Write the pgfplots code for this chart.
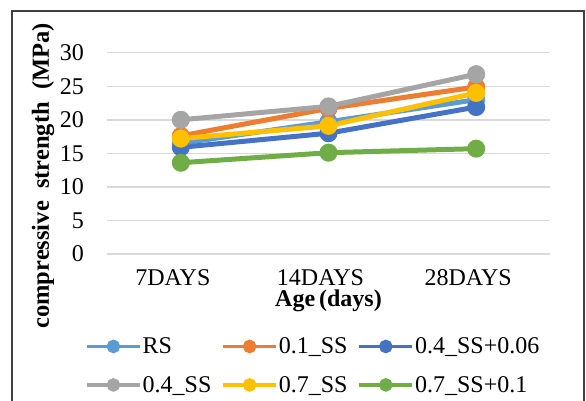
\documentclass[border=0pt]{standalone}
\usepackage{pgfplots}
\pgfplotsset{compat=1.18}
\usepackage{fontspec}
\setmainfont{Liberation Serif}
\definecolor{cRS}{HTML}{5B9BD5}
\definecolor{cOr}{HTML}{ED7D31}
\definecolor{cGr}{HTML}{A5A5A5}
\definecolor{cYe}{HTML}{FFC000}
\definecolor{cDb}{HTML}{4472C4}
\definecolor{cGn}{HTML}{70AD47}
\definecolor{grid}{HTML}{D9D9D9}
\begin{document}
\begin{tikzpicture}[x=1pt,y=1pt]
\useasboundingbox (0,0) rectangle (586,400);
\draw[line width=1.5pt, black!75] (12,-3) -- (12,389) -- (584,389) -- (584,-3);
\begin{axis}[
  at={(107pt,146pt)}, anchor=south west,
  scale only axis, width=443pt, height=201.3pt,
  xmin=-0.5, xmax=2.5, ymin=0, ymax=30,
  xtick={0,1,2}, xticklabels={7DAYS,14DAYS,28DAYS},
  ytick={0,5,10,15,20,25,30},
  axis line style={draw=none},
  major tick length=0pt,
  ymajorgrids, grid style={draw=grid, line width=1.5pt},
  /pgf/number format/assume math mode=true,
  tick label style={font=\fontsize{24}{28}\selectfont, text=black},
  yticklabel style={anchor=east, inner sep=0pt, xshift=-23pt},
  xticklabel style={anchor=north, inner sep=0pt, yshift=-15pt, xshift=-8pt},
  xlabel={Age\,(days)},
  xlabel style={at={(axis description cs:0.5,-0.262)}, anchor=base, font=\bfseries\fontsize{24}{28}\selectfont, inner sep=0pt},
  ylabel={compressive\ \ strength\ \ (MPa)},
  ylabel style={at={(axis description cs:-0.131,0.388)}, anchor=base, font=\bfseries\fontsize{24.5}{28}\selectfont, inner sep=0pt},
  clip=false,
  every axis plot/.append style={line width=5pt, mark=*, mark size=6.5pt},
  legend columns=3,
  legend style={at={(axis description cs:-0.0497,-0.41)}, anchor=north west,
    draw=none, fill=none, inner sep=0pt, row sep=19pt,
    font=\fontsize{24}{28}\selectfont,
    nodes={inner sep=1pt},
    /tikz/every even column/.append style={column sep=9pt}},
  legend cell align=left,
  legend image code/.code={\draw[#1, line width=3.5pt, mark size=5pt, mark repeat=2, mark phase=2] plot coordinates {(0pt,0pt) (26.5pt,0pt) (53pt,0pt)};},
]
\addplot[color=cRS] coordinates {(0,16.5) (1,19.7) (2,23.0)};
\addlegendentry{RS}
\addplot[color=cOr] coordinates {(0,17.6) (1,21.7) (2,24.9)};
\addlegendentry{0.1\_SS}
\addplot[color=cDb] coordinates {(0,15.9) (1,18.0) (2,21.9)};
\addlegendentry{0.4\_SS+0.06}
\addplot[color=cGr] coordinates {(0,20.0) (1,22.0) (2,26.8)};
\addlegendentry{0.4\_SS}
\addplot[color=cYe] coordinates {(0,17.2) (1,19.1) (2,24.0)};
\addlegendentry{0.7\_SS}
\addplot[color=cGn] coordinates {(0,13.6) (1,15.1) (2,15.7)};
\addlegendentry{0.7\_SS+0.1}
\end{axis}
\end{tikzpicture}
\end{document}
